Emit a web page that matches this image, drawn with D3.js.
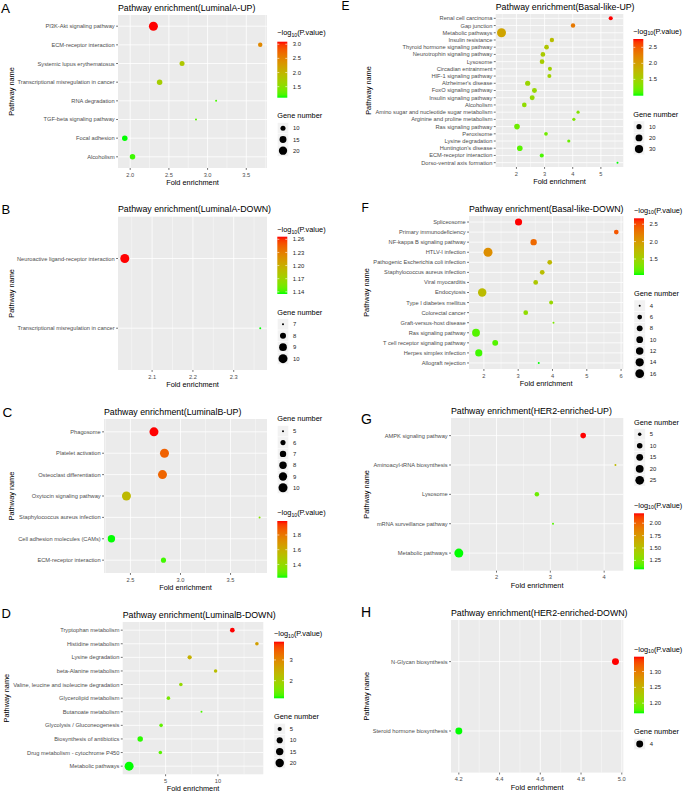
<!DOCTYPE html>
<html><head><meta charset="utf-8">
<script src="https://cdn.jsdelivr.net/npm/d3@7"></script>
<style>
body{margin:0;background:#fff}
svg{display:block}
text{font-family:"Liberation Sans",Arial,Helvetica,sans-serif}
</style>
</head><body>
<svg id="chart" width="685" height="792"></svg>
<script>
// ---------------- DATA ----------------
const A_title = "Pathway enrichment(LuminalA-UP)";
const A_pathways = ["PI3K-Akt signaling pathway","ECM-receptor interaction","Systemic lupus erythematosus","Transcriptional misregulation in cancer","RNA degradation","TGF-beta signaling pathway","Focal adhesion","Alcoholism"];
const A_fold = [2.30, 3.68, 2.67, 2.38, 3.11, 2.85, 1.93, 2.03];
const A_genes = [23, 9, 10, 11, 7, 7, 11, 11];
const A_logp = [3.09, 2.45, 1.80, 1.72, 1.20, 1.25, 1.11, 1.18];
const A_xTicks = ["2.0","2.5","3.0","3.5"];
const A_colorTicks = ["1.5","2.0","2.5","3.0"];
const A_sizeTicks = ["10","15","20"];

const B_title = "Pathway enrichment(LuminalA-DOWN)";
const B_pathways = ["Neuroactive ligand-receptor interaction","Transcriptional misregulation in cancer"];
const B_fold = [2.033, 2.365];
const B_genes = [10, 7];
const B_logp = [1.266, 1.135];
const B_xTicks = ["2.1","2.2","2.3"];
const B_colorTicks = ["1.14","1.17","1.20","1.23","1.26"];
const B_sizeTicks = ["7","8","9","10"];

const C_title = "Pathway enrichment(LuminalB-UP)";
const C_pathways = ["Phagosome","Platelet activation","Osteoclast differentiation","Oxytocin signaling pathway","Staphylococcus aureus infection","Cell adhesion molecules (CAMs)","ECM-receptor interaction"];
const C_fold = [2.735, 2.84, 2.82, 2.46, 3.79, 2.31, 2.83];
const C_genes = [10, 10, 10, 10, 5, 8, 6];
const C_logp = [1.99, 1.86, 1.85, 1.55, 1.36, 1.22, 1.25];
const C_xTicks = ["2.5","3.0","3.5"];
const C_colorTicks = ["1.4","1.6","1.8"];
const C_sizeTicks = ["5","6","7","8","9","10"];

const D_title = "Pathway enrichment(LuminalB-DOWN)";
const D_pathways = ["Tryptophan metabolism","Histidine metabolism","Lysine degradation","beta-Alanine metabolism","Valine, leucine and isoleucine degradation","Glycerolipid metabolism","Butanoate metabolism","Glycolysis / Gluconeogenesis","Biosynthesis of antibiotics","Drug metabolism - cytochrome P450","Metabolic pathways"];
const D_fold = [11.38, 13.73, 7.30, 9.78, 6.46, 5.27, 8.43, 4.57, 2.57, 4.50, 1.51];
const D_genes = [6, 4, 5, 4, 4, 4, 3, 4, 8, 4, 23];
const D_logp = [3.88, 2.70, 2.45, 2.25, 1.80, 1.55, 1.30, 1.40, 1.20, 1.35, 1.15];
const D_xTicks = ["5","10"];
const D_colorTicks = ["2","3"];
const D_sizeTicks = ["5","10","15","20"];

const E_title = "Pathway enrichment(Basal-like-UP)";
const E_pathways = ["Renal cell carcinoma","Gap junction","Metabolic pathways","Insulin resistance","Thyroid hormone signaling pathway","Neurotrophin signaling pathway","Lysosome","Circadian entrainment","HIF-1 signaling pathway","Alzheimer's disease","FoxO signaling pathway","Insulin signaling pathway","Alcoholism","Amino sugar and nucleotide sugar metabolism","Arginine and proline metabolism","Ras signaling pathway","Peroxisome","Lysine degradation","Huntington's disease","ECM-receptor interaction","Dorso-ventral axis formation"];
const E_fold = [5.35, 4.01, 1.47, 3.26, 3.07, 2.94, 2.91, 3.19, 3.17, 2.40, 2.64, 2.56, 2.28, 4.19, 4.04, 2.02, 3.05, 3.86, 2.12, 2.90, 5.59];
const E_genes = [6, 7, 37, 7, 8, 8, 8, 6, 6, 10, 9, 9, 8, 4, 4, 12, 5, 4, 12, 6, 3];
const E_logp = [2.76, 2.30, 1.95, 1.70, 1.62, 1.57, 1.55, 1.50, 1.50, 1.45, 1.42, 1.40, 1.38, 1.30, 1.28, 1.20, 1.22, 1.18, 1.12, 1.08, 0.99];
const E_xTicks = ["2","3","4","5"];
const E_colorTicks = ["1.5","2.0","2.5"];
const E_sizeTicks = ["10","20","30"];

const F_title = "Pathway enrichment(Basal-like-DOWN)";
const F_pathways = ["Spliceosome","Primary immunodeficiency","NF-kappa B signaling pathway","HTLV-I infection","Pathogenic Escherichia coli infection","Staphylococcus aureus infection","Viral myocarditis","Endocytosis","Type I diabetes mellitus","Colorectal cancer","Graft-versus-host disease","Ras signaling pathway","T cell receptor signaling pathway","Herpes simplex infection","Allograft rejection"];
const F_fold = [3.01, 5.86, 3.45, 2.12, 3.92, 3.70, 3.51, 1.95, 3.96, 3.22, 4.03, 1.77, 2.33, 1.85, 3.60];
const F_genes = [11, 6, 9, 17, 6, 6, 6, 15, 5, 6, 4, 13, 8, 11, 4];
const F_logp = [2.67, 2.45, 2.35, 2.10, 1.75, 1.70, 1.60, 1.72, 1.45, 1.40, 1.30, 1.15, 1.15, 1.10, 1.04];
const F_xTicks = ["2","3","4","5","6"];
const F_colorTicks = ["1.5","2.0","2.5"];
const F_sizeTicks = ["4","6","8","10","12","14","16"];

const G_title = "Pathway enrichment(HER2-enriched-UP)";
const G_pathways = ["AMPK signaling pathway","Aminoacyl-tRNA biosynthesis","Lysosome","mRNA surveillance pathway","Metabolic pathways"];
const G_fold = [3.61, 4.21, 2.75, 3.05, 1.30];
const G_genes = [10, 4, 7, 4, 27];
const G_logp = [2.20, 1.55, 1.20, 1.15, 1.07];
const G_xTicks = ["2","3","4"];
const G_colorTicks = ["1.25","1.50","1.75","2.00"];
const G_sizeTicks = ["5","10","15","20","25"];

const H_title = "Pathway enrichment(HER2-enriched-DOWN)";
const H_pathways = ["N-Glycan biosynthesis","Steroid hormone biosynthesis"];
const H_fold = [4.969, 4.20];
const H_genes = [4, 4];
const H_logp = [1.347, 1.168];
const H_xTicks = ["4.2","4.4","4.6","4.8","5.0"];
const H_colorTicks = ["1.20","1.25","1.30"];
const H_sizeTicks = ["4"];

// ---------------- LAYOUT ----------------
const panels = [
 {id:"A", title:A_title, pathways:A_pathways, fold:A_fold, genes:A_genes, logp:A_logp, xTicks:A_xTicks, colorTicks:A_colorTicks, sizeTicks:A_sizeTicks,
  L:{x0:118,x1:267,y0:15,y1:168, lt:[1,12.7,13.5], ytx:11.7, lx:277.3, cT:32.3, b0:41.7, b1:97.7, sT:115, k0:128.3, ks:11.2}},
 {id:"B", title:B_title, pathways:B_pathways, fold:B_fold, genes:B_genes, logp:B_logp, xTicks:B_xTicks, colorTicks:B_colorTicks, sizeTicks:B_sizeTicks,
  L:{x0:118,x1:267,y0:216.7,y1:370, lt:[1.5,214.3,13], ytx:11.7, lx:277.3, cT:229.3, b0:236.7, b1:294, sT:312.3, k0:324.3, ks:11.45}},
 {id:"C", title:C_title, pathways:C_pathways, fold:C_fold, genes:C_genes, logp:C_logp, xTicks:C_xTicks, colorTicks:C_colorTicks, sizeTicks:C_sizeTicks,
  L:{x0:104,x1:267,y0:419,y1:573, lt:[2.5,416.7,13.5], ytx:11.7, lx:277.3, cT:512.3, b0:521, b1:577.7, sT:418.3, k0:431.3, ks:11.3}},
 {id:"D", title:D_title, pathways:D_pathways, fold:D_fold, genes:D_genes, logp:D_logp, xTicks:D_xTicks, colorTicks:D_colorTicks, sizeTicks:D_sizeTicks,
  L:{x0:122.7,x1:263.3,y0:622,y1:774.3, lt:[1.5,618.3,13], ytx:6.7, lx:274, cT:633.3, b0:641.7, b1:698.3, sT:716.7, k0:729, ks:11.3}},
 {id:"E", title:E_title, pathways:E_pathways, fold:E_fold, genes:E_genes, logp:E_logp, xTicks:E_xTicks, colorTicks:E_colorTicks, sizeTicks:E_sizeTicks,
  L:{x0:495.7,x1:623.3,y0:14,y1:167, lt:[341.5,10,12], ytx:368.3, lx:633.3, cT:31, b0:39, b1:95.7, sT:114, k0:126.7, ks:11.2}},
 {id:"F", title:F_title, pathways:F_pathways, fold:F_fold, genes:F_genes, logp:F_logp, xTicks:F_xTicks, colorTicks:F_colorTicks, sizeTicks:F_sizeTicks,
  L:{x0:469,x1:623.3,y0:216,y1:369, lt:[361.5,211.7,12], ytx:366.7, lx:634, cT:210, b0:218.3, b1:275, sT:293.3, k0:305.7, ks:11.33}},
 {id:"G", title:G_title, pathways:G_pathways, fold:G_fold, genes:G_genes, logp:G_logp, xTicks:G_xTicks, colorTicks:G_colorTicks, sizeTicks:G_sizeTicks,
  L:{x0:451,x1:623.3,y0:418,y1:570.7, lt:[361,424,14], ytx:366.7, lx:634, cT:505, b0:513.3, b1:569.3, sT:422.3, k0:434.3, ks:11.5}},
 {id:"H", title:H_title, pathways:H_pathways, fold:H_fold, genes:H_genes, logp:H_logp, xTicks:H_xTicks, colorTicks:H_colorTicks, sizeTicks:H_sizeTicks,
  L:{x0:451,x1:623.3,y0:620,y1:772.6, lt:[361,616.7,14], ytx:366.7, lx:634, cT:649, b0:656.7, b1:713.3, sT:731.7, k0:744, ks:11.4}}
];

const FS = {title:8.8, axisTitle:7.35, tick:5.7, legTitle:7.35, legLabel:5.9};
const R0 = 1.0, R1 = 4.5, KEY = 11.4, BARW = 10;
const svg = d3.select("#chart");
const defs = svg.append("defs");

function drawPanel(p) {
  const L = p.L;
  const g = svg.append("g").attr("class","panel-"+p.id);
  const ext = d3.extent(p.fold), pad = (ext[1]-ext[0])*0.05;
  const x = d3.scaleLinear().domain([ext[0]-pad, ext[1]+pad]).range([L.x0, L.x1]);
  const y = d3.scalePoint().domain(p.pathways).range([L.y0, L.y1]).padding(0.6);
  const cExt = d3.extent(p.logp);
  const color = d3.scaleLinear().domain(cExt).range(["#00ff00","#ff0000"]).interpolate(d3.interpolateLab).clamp(true);
  const gExt = d3.extent(p.genes);
  const rad = v => { const t = gExt[1]===gExt[0] ? 0.5 : Math.max(0,(v-gExt[0])/(gExt[1]-gExt[0])); return R0 + (R1-R0)*Math.sqrt(t); };

  // panel background
  g.append("rect").attr("x",L.x0).attr("y",L.y0).attr("width",L.x1-L.x0).attr("height",L.y1-L.y0).attr("fill","#ebebeb");

  // grid
  const major = p.xTicks.map(Number);
  const step = major.length>1 ? major[1]-major[0] : 1;
  const minor = [major[0]-step/2].concat(major.map(m=>m+step/2));
  const dom = x.domain();
  g.selectAll(".minor").data(minor.filter(m=>m>dom[0]&&m<dom[1])).join("line")
    .attr("x1",d=>x(d)).attr("x2",d=>x(d)).attr("y1",L.y0).attr("y2",L.y1)
    .attr("stroke","#fff").attr("stroke-width",0.4);
  g.selectAll(".majx").data(major).join("line")
    .attr("x1",d=>x(d)).attr("x2",d=>x(d)).attr("y1",L.y0).attr("y2",L.y1)
    .attr("stroke","#fff").attr("stroke-width",0.8);
  g.selectAll(".majy").data(p.pathways).join("line")
    .attr("x1",L.x0).attr("x2",L.x1).attr("y1",d=>y(d)).attr("y2",d=>y(d))
    .attr("stroke","#fff").attr("stroke-width",0.8);

  // points
  const pts = p.pathways.map((n,i)=>({n, f:p.fold[i], gn:p.genes[i], lp:p.logp[i]}));
  g.selectAll(".pt").data(pts).join("circle")
    .attr("cx",d=>x(d.f)).attr("cy",d=>y(d.n)).attr("r",d=>rad(d.gn))
    .attr("fill",d=>color(d.lp));

  // y axis
  const ya = g.append("g");
  ya.selectAll("line").data(p.pathways).join("line")
    .attr("x1",L.x0-1.9).attr("x2",L.x0).attr("y1",d=>y(d)).attr("y2",d=>y(d))
    .attr("stroke","#333").attr("stroke-width",0.7);
  ya.selectAll("text").data(p.pathways).join("text")
    .attr("x",L.x0-3.3).attr("y",d=>y(d)).attr("dy","0.35em").attr("text-anchor","end")
    .attr("font-size",FS.tick).attr("fill","#4d4d4d").text(d=>d);

  // x axis
  const xa = g.append("g");
  xa.selectAll("line").data(p.xTicks).join("line")
    .attr("x1",d=>x(+d)).attr("x2",d=>x(+d)).attr("y1",L.y1).attr("y2",L.y1+1.9)
    .attr("stroke","#333").attr("stroke-width",0.7);
  xa.selectAll("text").data(p.xTicks).join("text")
    .attr("x",d=>x(+d)).attr("y",L.y1+8.6).attr("text-anchor","middle")
    .attr("font-size",FS.tick).attr("fill","#4d4d4d").text(d=>d);

  // axis titles
  g.append("text").attr("x",(L.x0+L.x1)/2).attr("y",L.y1+17).attr("text-anchor","middle")
    .attr("font-size",FS.axisTitle).attr("fill","#000").text("Fold enrichment");
  g.append("text").attr("transform",`translate(${L.ytx},${(L.y0+L.y1)/2}) rotate(-90)`)
    .attr("text-anchor","middle").attr("dy","0.35em")
    .attr("font-size",FS.axisTitle).attr("fill","#000").text("Pathway name");

  // plot title
  g.append("text").attr("x",L.x0).attr("y",L.y0-4.3).attr("font-size",FS.title).attr("fill","#000").text(p.title);

  // panel letter
  g.append("text").attr("x",L.lt[0]).attr("y",L.lt[1]).attr("font-size",L.lt[2]).attr("fill","#000").text(p.id);

  // colour legend
  const ct = g.append("text").attr("x",L.lx).attr("y",L.cT+2.5).attr("font-size",FS.legTitle).attr("fill","#000");
  ct.append("tspan").text("\u2212log");
  ct.append("tspan").attr("font-size",5.2).attr("dy",1.8).text("10");
  ct.append("tspan").attr("dy",-1.8).text("(P.value)");
  const gid = "grad"+p.id;
  const grad = defs.append("linearGradient").attr("id",gid).attr("x1",0).attr("y1",1).attr("x2",0).attr("y2",0);
  d3.range(0,1.0001,0.05).forEach(t=>{
    grad.append("stop").attr("offset",t).attr("stop-color",color(cExt[0]+t*(cExt[1]-cExt[0])));
  });
  g.append("rect").attr("x",L.lx).attr("y",L.b0).attr("width",BARW).attr("height",L.b1-L.b0).attr("fill",`url(#${gid})`);
  const cy = d3.scaleLinear().domain(cExt).range([L.b1, L.b0]);
  p.colorTicks.forEach(tk=>{
    const yy = cy(+tk);
    g.append("line").attr("x1",L.lx).attr("x2",L.lx+2).attr("y1",yy).attr("y2",yy).attr("stroke","#fff").attr("stroke-width",0.6);
    g.append("line").attr("x1",L.lx+BARW-2).attr("x2",L.lx+BARW).attr("y1",yy).attr("y2",yy).attr("stroke","#fff").attr("stroke-width",0.6);
    g.append("text").attr("x",L.lx+BARW+5.5).attr("y",yy).attr("dy","0.35em").attr("font-size",FS.legLabel).attr("fill","#222").text(tk);
  });

  // size legend
  g.append("text").attr("x",L.lx).attr("y",L.sT+2.5).attr("font-size",FS.legTitle).attr("fill","#000").text("Gene number");
  p.sizeTicks.forEach((tk,i)=>{
    const yc = L.k0 + i*L.ks;
    g.append("rect").attr("x",L.lx).attr("y",yc-KEY/2).attr("width",KEY).attr("height",KEY).attr("fill","#f2f2f2").attr("stroke","#fff").attr("stroke-width",0.5);
    g.append("circle").attr("cx",L.lx+KEY/2).attr("cy",yc).attr("r",rad(+tk)).attr("fill","#000");
    g.append("text").attr("x",L.lx+KEY+4.3).attr("y",yc).attr("dy","0.35em").attr("font-size",FS.legLabel).attr("fill","#222").text(tk);
  });
}

panels.forEach(drawPanel);
</script>
</body></html>
